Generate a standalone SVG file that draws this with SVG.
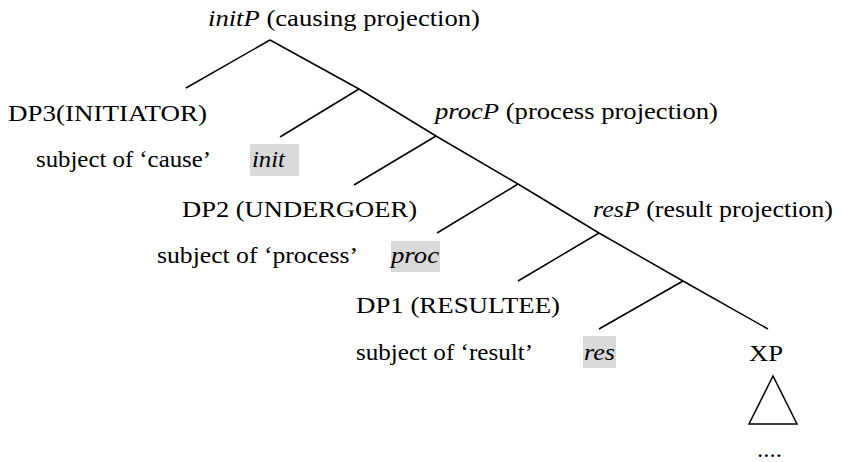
<svg xmlns="http://www.w3.org/2000/svg" width="842" height="462" viewBox="0 0 842 462">
  <style>
    text { font-family: "Liberation Serif", "Times New Roman", serif; font-size: 24px; fill: #000; }
    .it { font-style: italic; }
    .edge { stroke: #000; stroke-width: 1.5; fill: none; stroke-linecap: butt; }
    .hl { fill: #d9d9d9; }
  </style>
  <rect width="842" height="462" fill="#fff"/>

  <!-- tree branches: the right spine and each left daughter -->
  <g id="connectors">
    <polyline class="edge" points="270,40 359,89 436,136 518,184 599,233 683,281 768,329"/>
    <line class="edge" x1="270" y1="40" x2="186" y2="88"/>
    <line class="edge" x1="359" y1="89" x2="280" y2="137"/>
    <line class="edge" x1="436" y1="136" x2="354" y2="185"/>
    <line class="edge" x1="518" y1="184" x2="437" y2="233"/>
    <line class="edge" x1="599" y1="233" x2="518" y2="281"/>
    <line class="edge" x1="683" y1="281" x2="599" y2="329"/>
  </g>

  <g id="initP">
    <text x="208" y="26" textLength="272" lengthAdjust="spacingAndGlyphs"><tspan class="it">initP</tspan> (causing projection)</text>
  </g>
  <g id="dp3">
    <text x="8" y="121" textLength="199" lengthAdjust="spacingAndGlyphs">DP3(INITIATOR)</text>
    <text x="36" y="167" textLength="175" lengthAdjust="spacingAndGlyphs">subject of ‘cause’</text>
  </g>
  <g id="init">
    <rect class="hl" x="250" y="144" width="49" height="32"/>
    <text class="it" x="252" y="167" textLength="33" lengthAdjust="spacingAndGlyphs">init</text>
  </g>
  <g id="procP">
    <text x="435" y="119" textLength="283" lengthAdjust="spacingAndGlyphs"><tspan class="it">procP</tspan> (process projection)</text>
  </g>
  <g id="dp2">
    <text x="182" y="217" textLength="235" lengthAdjust="spacingAndGlyphs">DP2 (UNDERGOER)</text>
    <text x="157" y="263" textLength="201" lengthAdjust="spacingAndGlyphs">subject of ‘process’</text>
  </g>
  <g id="proc">
    <rect class="hl" x="391" y="241" width="49" height="31"/>
    <text class="it" x="391" y="263" textLength="48" lengthAdjust="spacingAndGlyphs">proc</text>
  </g>
  <g id="resP">
    <text x="593" y="217" textLength="240" lengthAdjust="spacingAndGlyphs"><tspan class="it">resP</tspan> (result projection)</text>
  </g>
  <g id="dp1">
    <text x="356" y="313" textLength="204" lengthAdjust="spacingAndGlyphs">DP1 (RESULTEE)</text>
    <text x="356" y="360" textLength="177" lengthAdjust="spacingAndGlyphs">subject of ‘result’</text>
  </g>
  <g id="res">
    <rect class="hl" x="583" y="336" width="33" height="32"/>
    <text class="it" x="584" y="360" textLength="31" lengthAdjust="spacingAndGlyphs">res</text>
  </g>
  <g id="xp">
    <text x="749" y="361" textLength="34" lengthAdjust="spacingAndGlyphs">XP</text>
    <polygon points="773,376 749,424 797,424" fill="none" stroke="#000" stroke-width="1.5"/>
    <text x="757" y="457" textLength="25" lengthAdjust="spacingAndGlyphs">....</text>
  </g>
</svg>
